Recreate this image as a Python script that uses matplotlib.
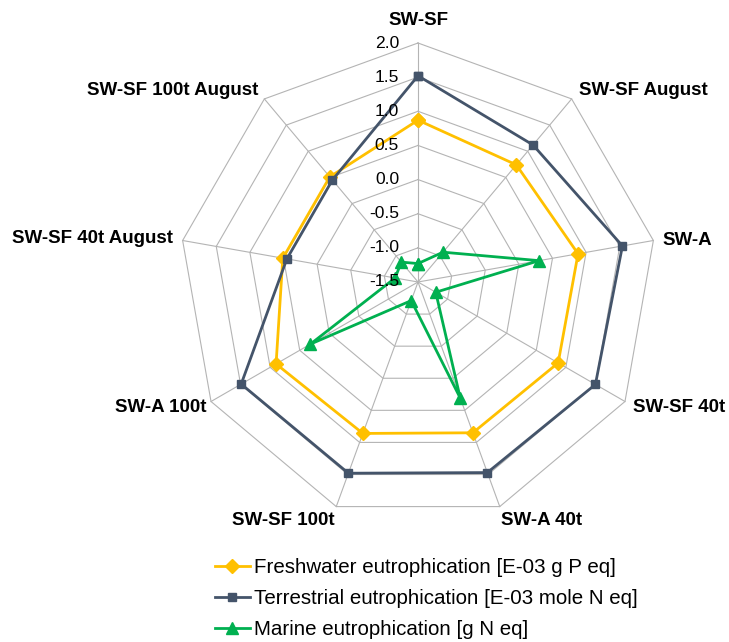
import numpy as np
import matplotlib
matplotlib.use("Agg")
import matplotlib.pyplot as plt
from matplotlib.transforms import offset_copy

plt.rcParams['font.family'] = ['Liberation Sans', 'DejaVu Sans']

# data
categories = ['SW-SF', 'SW-SF August', 'SW-A', 'SW-SF 40t', 'SW-A 40t',
              'SW-SF 100t', 'SW-A 100t', 'SW-SF 40t August', 'SW-SF 100t August']
freshwater = [0.87, 0.74, 0.88, 0.87, 0.85, 0.86, 0.90, 0.51, 0.51]
terrestrial = [1.52, 1.12, 1.54, 1.50, 1.47, 1.48, 1.49, 0.45, 0.45]
marine = [-1.23, -0.93, 0.30, -1.20, 0.31, -1.21, 0.32, -1.16, -1.12]
ticks = [-1.5, -1.0, -0.5, 0.0, 0.5, 1.0, 1.5, 2.0]
series_names = ['Freshwater eutrophication [E-03 g P eq]',
                'Terrestrial eutrophication [E-03 mole N eq]',
                'Marine eutrophication [g N eq]']

rmin, rmax = ticks[0], ticks[-1]
n = len(categories)
theta = np.arange(n) * 2 * np.pi / n
theta_c = np.append(theta, theta[0])

fig = plt.figure(figsize=(7.29, 6.42), dpi=100)
ax = fig.add_axes([179 / 729, 121 / 642, 478 / 729, 478 / 642], projection='polar')
ax.set_theta_zero_location('N')
ax.set_theta_direction(-1)
ax.set_ylim(rmin, rmax)
ax.set_axis_off()

grid_col = '#B4B4B4'
# polygon rings
for t in ticks[1:]:
    ax.plot(theta_c, [t] * (n + 1), color=grid_col, lw=0.8, zorder=1, clip_on=False)
# spokes
for a in theta:
    ax.plot([a, a], [rmin, rmax], color=grid_col, lw=0.8, zorder=1, clip_on=False)

styles = [
    dict(color='#FFC000', marker='D', ms=7),
    dict(color='#44546A', marker='s', ms=6),
    dict(color='#00B050', marker='^', ms=8.5),
]
handles = []
for vals, st, name in zip([freshwater, terrestrial, marine], styles, series_names):
    v = np.append(vals, vals[0])
    h, = ax.plot(theta_c, v, color=st['color'], lw=2, marker=st['marker'],
                 ms=st['ms'], mec=st['color'], mfc=st['color'], zorder=3,
                 clip_on=False, label=name)
    handles.append(h)

# radial tick labels, left of the top spoke
tr = offset_copy(ax.transData, fig=fig, x=-19, y=0, units='dots')
for t in ticks:
    ax.text(0, t, f'{t:.1f}', transform=tr, ha='right', va='center',
            fontsize=12.6, color='#000000', zorder=5)

# category labels around the outside
lab_off = [(0, 14, 'center', 'bottom'), (7, 8, 'left', 'center'),
           (9, 0, 'left', 'center'), (8, -6, 'left', 'center'),
           (1, -5, 'left', 'top'), (-2, -5, 'right', 'top'),
           (-5, -6, 'right', 'center'), (-10, 2, 'right', 'center'),
           (-6, 8, 'right', 'center')]
for a, name, (dx, dy, ha, va) in zip(theta, categories, lab_off):
    trl = offset_copy(ax.transData, fig=fig, x=dx, y=dy, units='dots')
    ax.text(a, rmax, name, transform=trl, ha=ha, va=va, fontsize=13.5,
            fontweight='bold', color='#000000')

fig.legend(handles=handles, loc='upper left',
           bbox_to_anchor=(215 / 729, 1 - 558 / 642), frameon=False,
           fontsize=14.8, handlelength=1.7, handletextpad=0.2,
           labelspacing=0.58, borderpad=0, borderaxespad=0)

fig.savefig('out.png', dpi=100)
